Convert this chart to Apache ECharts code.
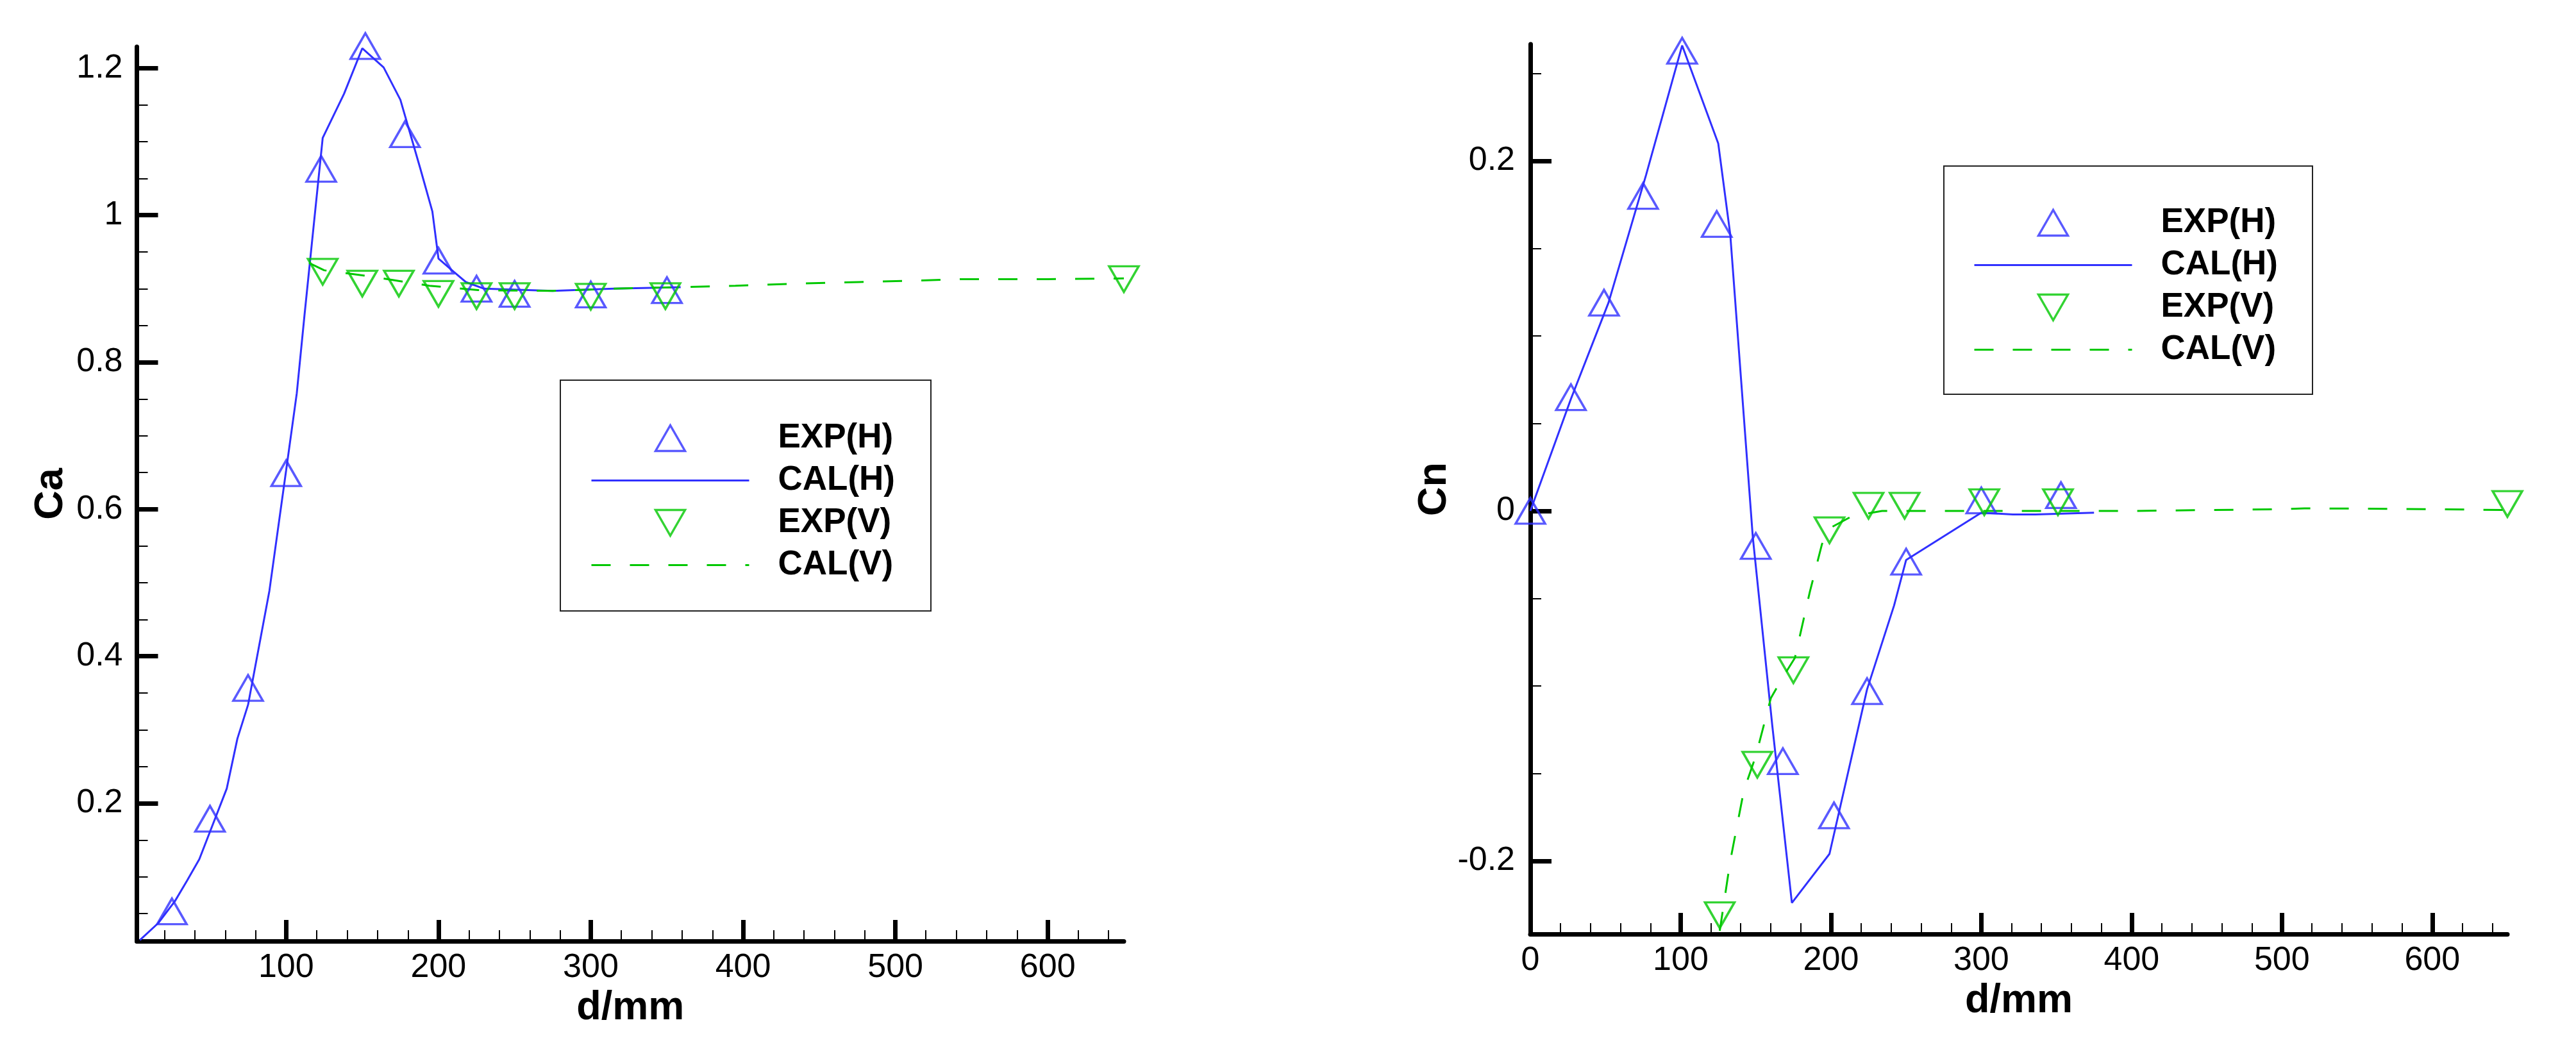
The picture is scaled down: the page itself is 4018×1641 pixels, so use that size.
<!DOCTYPE html>
<html>
<head>
<meta charset="utf-8">
<title>Ca / Cn vs d</title>
<script src="https://cdn.jsdelivr.net/npm/echarts@6/dist/echarts.min.js"></script>
<style>
  html, body { margin: 0; padding: 0; background: #fff; }
  #chart { width: 4018px; height: 1641px; }
</style>
</head>
<body>
<div id="chart"></div>
<script>
// ---- data ----
const legendNames = ['EXP(H)', 'CAL(H)', 'EXP(V)', 'CAL(V)']

// left panel: Ca
const expH_Ca = [[25, 0.053], [50, 0.179], [75, 0.357], [100, 0.649], [123, 1.063], [152, 1.23], [178, 1.11], [200, 0.938], [225, 0.9], [250, 0.893], [300, 0.892], [350, 0.898]]
const calH_Ca = [[4, 0.014], [16, 0.037], [27, 0.067], [35, 0.095], [43, 0.124], [49, 0.156], [61, 0.22], [68, 0.288], [75, 0.334], [89, 0.489], [100, 0.653], [107, 0.758], [112, 0.863], [117, 0.964], [124, 1.105], [138, 1.165], [150, 1.227], [164, 1.201], [175, 1.157], [188, 1.064], [196, 1.005], [200, 0.941], [210, 0.923], [218, 0.909], [230, 0.9], [275, 0.897], [315, 0.9], [359, 0.902]]
const expV_Ca = [[124, 0.923], [150, 0.907], [174, 0.907], [200, 0.893], [225, 0.89], [250, 0.89], [300, 0.889], [349, 0.89], [650, 0.913]]
const calV_Ca = [[115, 0.935], [125, 0.925], [154, 0.917], [194, 0.904], [226, 0.898], [275, 0.897], [315, 0.9], [355, 0.902], [395, 0.904], [436, 0.907], [476, 0.909], [516, 0.911], [543, 0.913], [600, 0.913], [650, 0.914]]

// right panel: Cn
const expH_Cn = [[0, 0], [27, 0.065], [49, 0.119], [75, 0.18], [101, 0.263], [124, 0.164], [150, -0.02], [168, -0.143], [202, -0.174], [224, -0.103], [250, -0.029], [300, 0.006], [353, 0.009]]
const calH_Cn = [[0, 0], [27, 0.064], [52, 0.119], [77, 0.192], [101, 0.266], [125, 0.21], [133, 0.158], [148, -0.015], [161, -0.123], [174, -0.224], [199, -0.196], [224, -0.102], [242, -0.054], [250, -0.028], [300, -0.001], [321, -0.002], [336, -0.002], [375, -0.001]]
const expV_Cn = [[126, -0.231], [151, -0.145], [175, -0.091], [199, -0.011], [225, 0.003], [249, 0.003], [302, 0.005], [351, 0.005], [650, 0.004]]
const calV_Cn = [[126, -0.24], [133, -0.2], [142, -0.16], [150, -0.14], [160, -0.107], [168, -0.095], [176, -0.084], [186, -0.046], [194, -0.019], [201, -0.009], [214, -0.003], [234, 0], [300, 0], [400, 0], [500, 0.001], [515, 0.0015], [600, 0.001], [650, 0.0005]]

// tick labels
const xLabelsCa = [100, 200, 300, 400, 500, 600]
const xLabelsCn = [0, 100, 200, 300, 400, 500, 600]
const yLabelsCa = [0.2, 0.4, 0.6, 0.8, 1, 1.2]
const yLabelsCn = [-0.2, 0, 0.2]

// ---- styling ----
const FONT = '"Liberation Sans", Arial, Helvetica, sans-serif'
const BLUE = '#3030ff'
const GREEN = '#00c800'
const TRI_UP = 'path://M0,40 L23,0 L46,40 Z'
const TRI_DOWN = 'path://M0,0 L46,0 L23,40 Z'

// minor ticks between the labelled ones
const minorTicks = (from, to, step, majorStep) => {
  const out = []
  for (let v = from; v <= to + 1e-9; v += step) {
    const r = Math.round(v * 1000) / 1000
    const q = r / majorStep
    if (Math.abs(q - Math.round(q)) > 1e-6) out.push(r)
  }
  return out
}

const fmt = (v) => String(Math.round(v * 1000) / 1000)

const majorAxis = (dim, gridIndex, min, max, labels, nameGap, labelMargin) => ({
  type: 'value',
  gridIndex,
  min,
  max,
  position: dim === 'x' ? 'bottom' : 'left',
  axisLine: { show: true, onZero: false, lineStyle: { color: '#000', width: 7 } },
  axisTick: { show: true, inside: true, length: 33, customValues: labels, lineStyle: { color: '#000', width: 7 } },
  axisLabel: { show: true, customValues: labels, formatter: fmt, color: '#000', fontSize: 52, fontFamily: FONT, margin: labelMargin },
  splitLine: { show: false },
  nameLocation: 'middle',
  nameGap,
  nameTextStyle: { color: '#000', fontSize: 63, fontWeight: 'bold', fontFamily: FONT }
})

const minorAxis = (dim, gridIndex, min, max, ticks) => ({
  type: 'value',
  gridIndex,
  min,
  max,
  position: dim === 'x' ? 'bottom' : 'left',
  axisLine: { show: false, onZero: false },
  axisTick: { show: true, inside: true, length: 17, customValues: ticks, lineStyle: { color: '#000', width: 2 } },
  axisLabel: { show: false },
  splitLine: { show: false }
})

const expSeries = (name, data, xi, yi, color, symbol) => ({
  name,
  type: 'scatter',
  xAxisIndex: xi,
  yAxisIndex: yi,
  data,
  symbol,
  symbolSize: [46, 40],
  clip: false,
  itemStyle: { color: 'transparent', borderColor: color, borderWidth: 3.5 },
  z: 3
})

const calSeries = (name, data, xi, yi, color, dash) => ({
  name,
  type: 'line',
  xAxisIndex: xi,
  yAxisIndex: yi,
  data,
  symbol: 'none',
  showSymbol: false,
  itemStyle: { color },
  lineStyle: { color, width: 3, type: dash },
  z: 2
})

// line entries in the legend show only the line, no marker
const legendData = legendNames.map(name =>
  name.startsWith('CAL')
    ? { name, itemStyle: { color: 'transparent', borderWidth: 0, opacity: 0 } }
    : { name }
)

const legendBox = (left, top, padding) => ({
  orient: 'vertical',
  left,
  top,
  data: legendData,
  itemWidth: 246,
  itemHeight: 40,
  itemGap: 13,
  padding,
  borderColor: '#222',
  borderWidth: 2,
  selectedMode: false,
  itemStyle: { borderWidth: 3.5 },
  lineStyle: { width: 3 },
  textStyle: { color: '#000', fontSize: 53, fontWeight: 'bold', fontFamily: FONT, padding: [0, 0, 0, 40] }
})

const chart = echarts.init(document.getElementById('chart'), null, { renderer: 'canvas' })

const xL = [2, 650], yL = [0.0126, 1.229]
const xR = [0, 650], yR = [-0.2418, 0.2667]

chart.setOption({
  animation: false,
  backgroundColor: '#fff',
  grid: [
    { left: 213.5, top: 73, width: 1539.5, height: 1395, outerBoundsMode: 'none' },
    { left: 2387, top: 69, width: 1524, height: 1388, outerBoundsMode: 'none' }
  ],
  xAxis: [
    Object.assign(majorAxis('x', 0, xL[0], xL[1], xLabelsCa, 72, 16), { name: 'd/mm' }),
    minorAxis('x', 0, xL[0], xL[1], minorTicks(20, 640, 20, 100)),
    Object.assign(majorAxis('x', 1, xR[0], xR[1], xLabelsCn, 72, 16), { name: 'd/mm' }),
    minorAxis('x', 1, xR[0], xR[1], minorTicks(20, 640, 20, 100))
  ],
  yAxis: [
    Object.assign(majorAxis('y', 0, yL[0], yL[1], yLabelsCa, 102, 22), { name: 'Ca' }),
    minorAxis('y', 0, yL[0], yL[1], minorTicks(0.05, 1.2, 0.05, 0.2)),
    Object.assign(majorAxis('y', 1, yR[0], yR[1], yLabelsCn, 105, 24), { name: 'Cn' }),
    minorAxis('y', 1, yR[0], yR[1], minorTicks(-0.2, 0.25, 0.05, 0.2))
  ],
  legend: [
    legendBox(874, 593, [64, 56, 45, 47]),
    legendBox(3032, 259, [62, 54, 43, 46])
  ],
  series: [
    expSeries('EXP(H)', expH_Ca, 0, 0, BLUE, TRI_UP),
    calSeries('CAL(H)', calH_Ca, 0, 0, BLUE, 'solid'),
    expSeries('EXP(V)', expV_Ca, 0, 0, GREEN, TRI_DOWN),
    calSeries('CAL(V)', calV_Ca, 0, 0, GREEN, [30, 30]),
    expSeries('EXP(H)', expH_Cn, 2, 2, BLUE, TRI_UP),
    calSeries('CAL(H)', calH_Cn, 2, 2, BLUE, 'solid'),
    expSeries('EXP(V)', expV_Cn, 2, 2, GREEN, TRI_DOWN),
    calSeries('CAL(V)', calV_Cn, 2, 2, GREEN, [30, 30])
  ]
})

window.addEventListener('resize', () => chart.resize())
</script>
</body>
</html>
